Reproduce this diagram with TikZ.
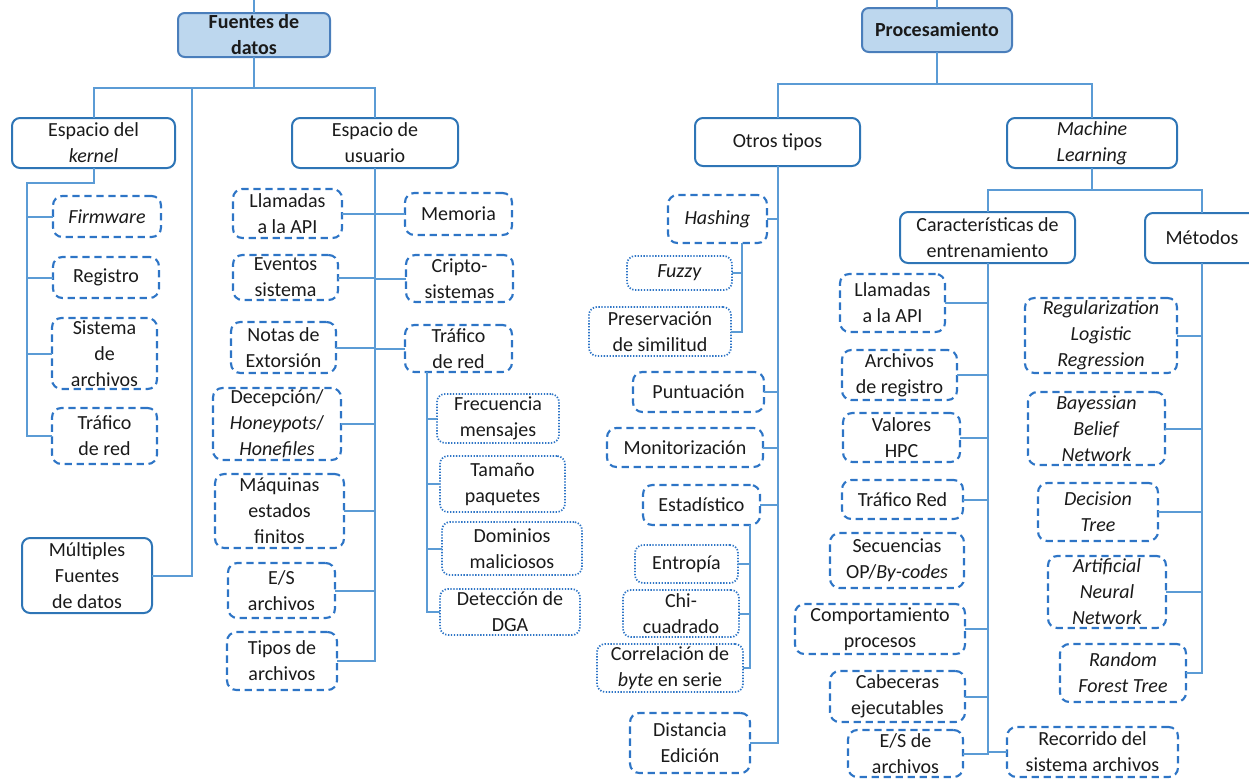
\documentclass[tikz,border=0pt]{standalone}
\usepackage{fontspec}
\setmainfont{Carlito}
\definecolor{dblue}{HTML}{2E75C6}
\definecolor{sblue}{HTML}{2E75B6}
\definecolor{cblue}{HTML}{5B9BD5}
\definecolor{rfill}{HTML}{BDD7EE}
\definecolor{rborder}{HTML}{4A7EBB}
\definecolor{txtc}{HTML}{1A1A1A}
\tikzset{
  shp/.style={inner sep=0pt, outer sep=0pt, rectangle},
  rootbox/.style={shp, fill=rfill, draw=rborder, line width=1.5pt, rounded corners=5pt},
  solidbox/.style={shp, draw=sblue, line width=1.5pt, rounded corners=6pt},
  dashbox/.style={shp, draw=dblue, line width=1.6pt, dash pattern=on 5.5pt off 3.5pt, rounded corners=7pt},
  dotbox/.style={shp, draw=dblue, line width=1.3pt, dash pattern=on 1pt off 1.2pt, rounded corners=6pt},
  txt/.style={inner sep=0pt, align=center, text=txtc, font=\fontsize{15}{19.5}\selectfont},
  conn/.style={draw=cblue, line width=1.5pt}
}
\newcommand\bx[7]{%
  \node[#2, minimum width={(#5-#3)*0.75pt}, minimum height={(#6-#4)*0.75pt}] (#1) at ({(#3+#5)/2},{(#4+#6)/2}) {};
  \node[txt] (#1-t) at (#1.center) {#7};}
\begin{document}
\begin{tikzpicture}[x=0.75pt,y=-0.75pt]
\useasboundingbox (0,0) rectangle (1249,778);
% ---------- left tree ----------
\bx{fuentes}{rootbox}{178}{13}{330}{57}{\textbf{Fuentes de}\\\textbf{datos}}
\bx{kernel}{solidbox}{12}{118}{175}{168}{Espacio del\\\textit{kernel}}
\bx{usu}{solidbox}{292}{118}{458}{168}{Espacio de\\usuario}
\bx{mult}{solidbox}{22}{538}{152}{613}{Múltiples\\Fuentes\\de datos}
\bx{firm}{dashbox}{53}{196}{161}{237}{\textit{Firmware}}
\bx{reg}{dashbox}{53}{257}{159}{298}{Registro}
\bx{sist}{dashbox}{52}{318}{157}{389}{Sistema\\de\\archivos}
\bx{ktraf}{dashbox}{52}{408}{157}{464}{Tráfico\\de red}
\bx{llam}{dashbox}{233}{189}{342}{238}{Llamadas\\a la API}
\bx{even}{dashbox}{233}{255}{338}{300}{Eventos\\sistema}
\bx{notas}{dashbox}{231}{322}{336}{373}{Notas de\\Extorsión}
\bx{decep}{dashbox}{213}{388}{341}{460}{Decepción/\\\textit{Honeypots}/\\\textit{Honefiles}}
\bx{maq}{dashbox}{215}{474}{344}{548}{Máquinas\\estados\\finitos}
\bx{es}{dashbox}{228}{563}{335}{618}{E/S\\archivos}
\bx{tipos}{dashbox}{227}{632}{337}{690}{Tipos de\\archivos}
\bx{mem}{dashbox}{405}{193}{512}{235}{Memoria}
\bx{cripto}{dashbox}{406}{255}{513}{302}{Cripto-\\sistemas}
\bx{utraf}{dashbox}{405}{325}{512}{372}{Tráfico\\de red}
\bx{frec}{dotbox}{437}{394}{559}{443}{Frecuencia\\mensajes}
\bx{tam}{dotbox}{440}{456}{565}{512}{Tamaño\\paquetes}
\bx{dom}{dotbox}{442}{522}{582}{575}{Dominios\\maliciosos}
\bx{dga}{dotbox}{440}{589}{580}{635}{Detección de\\DGA}
% ---------- right tree ----------
\bx{proc}{rootbox}{862}{8}{1012}{52}{\textbf{Procesamiento}}
\bx{otros}{solidbox}{695}{118}{860}{166}{Otros tipos}
\bx{ml}{solidbox}{1007}{118}{1177}{168}{\textit{Machine}\\\textit{Learning}}
\bx{hash}{dashbox}{668}{195}{767}{243}{\textit{Hashing}}
\bx{fuzzy}{dotbox}{627}{256}{732}{290}{\textit{Fuzzy}}
\bx{pres}{dotbox}{589}{307}{731}{356}{Preservación\\de similitud}
\bx{punt}{dashbox}{633}{372}{764}{412}{Puntuación}
\bx{monit}{dashbox}{607}{428}{763}{467}{Monitorización}
\bx{estad}{dashbox}{643}{485}{760}{525}{Estadístico}
\bx{entr}{dotbox}{635}{545}{738}{583}{Entropía}
\bx{chi}{dotbox}{623}{590}{739}{637}{Chi-\\cuadrado}
\bx{corr}{dotbox}{597}{644}{743}{692}{Correlación de\\\textit{byte} en serie}
\bx{dist}{dashbox}{630}{713}{750}{773}{Distancia\\Edición}
\bx{carac}{solidbox}{900}{212}{1075}{263}{Características de\\entrenamiento}
\bx{met}{solidbox}{1145}{213}{1259}{263}{Métodos}
\bx{rllam}{dashbox}{840}{274}{945}{332}{Llamadas\\a la API}
\bx{rarch}{dashbox}{842}{350}{957}{400}{Archivos\\de registro}
\bx{hpc}{dashbox}{843}{413}{960}{462}{Valores\\HPC}
\bx{rtraf}{dashbox}{842}{480}{963}{519}{Tráfico Red}
\bx{sec}{dashbox}{830}{533}{964}{588}{Secuencias\\OP/\textit{By-codes}}
\bx{comp}{dashbox}{795}{604}{965}{654}{Comportamiento\\procesos}
\bx{cab}{dashbox}{830}{671}{965}{722}{Cabeceras\\ejecutables}
\bx{res}{dashbox}{848}{730}{963}{777}{E/S de\\archivos}
\bx{rec}{dashbox}{1007}{727}{1178}{777}{Recorrido del\\sistema archivos}
\bx{regl}{dashbox}{1025}{298}{1177}{373}{\textit{Regularization}\\\textit{Logistic}\\\textit{Regression}}
\bx{bay}{dashbox}{1028}{392}{1165}{465}{\textit{Bayessian}\\\textit{Belief}\\\textit{Network}}
\bx{dec}{dashbox}{1038}{483}{1158}{541}{\textit{Decision}\\\textit{Tree}}
\bx{ann}{dashbox}{1048}{556}{1166}{628}{\textit{Artificial}\\\textit{Neural}\\\textit{Network}}
\bx{rf}{dashbox}{1060}{644}{1186}{702}{\textit{Random}\\\textit{Forest Tree}}
% ---------- connectors: left ----------
\coordinate (ftop) at (254,0);
\coordinate (lbus) at (192,88);
\coordinate (kb) at (27,183);
\coordinate (ub) at (427,0);
\draw[conn] (ftop) -- (fuentes.north);
\draw[conn] (fuentes.south) -- (fuentes.south |- lbus);
\draw[conn] (kernel.north) |- (usu.north |- lbus) -- (usu.north);
\draw[conn] (mult.east) -| (lbus);
\draw[conn] (kernel.south) |- (kb) |- (ktraf.west);
\foreach \n in {firm,reg,sist} \draw[conn] (\n.west) -- (\n.west -| kb);
\draw[conn] (usu.south) |- (tipos.east);
\foreach \n in {llam,even,notas,decep,maq,es} \draw[conn] (\n.east) -- (\n.east -| usu.south);
\foreach \n in {mem,cripto,utraf} \draw[conn] (\n.west) -- (\n.west -| usu.south);
\draw[conn] (utraf.south -| ub) |- (dga.west);
\foreach \n in {frec,tam,dom} \draw[conn] (\n.west) -- (\n.west -| ub);
% ---------- connectors: right ----------
\coordinate (ptop) at (937,0);
\coordinate (rbus) at (0,84);
\coordinate (mbus) at (0,190);
\coordinate (hb) at (742,0);
\coordinate (eb) at (750,0);
\draw[conn] (ptop) -- (proc.north);
\draw[conn] (proc.south) -- (proc.south |- rbus);
\draw[conn] (otros.north) |- (ml.north |- rbus) -- (ml.north);
\draw[conn] (otros.south) |- (dist.east);
\foreach \n in {hash,punt,monit,estad} \draw[conn] (\n.east) -- (\n.east -| otros.south);
\draw[conn] (hash.south -| hb) |- (pres.east);
\draw[conn] (fuzzy.east) -- (fuzzy.east -| hb);
\draw[conn] (estad.south -| eb) |- (corr.east);
\foreach \n in {entr,chi} \draw[conn] (\n.east) -- (\n.east -| eb);
\draw[conn] (ml.south) -- (ml.south |- mbus);
\draw[conn] (carac.north) |- (met.north |- mbus) -- (met.north);
\draw[conn] (carac.south) |- (res.east);
\foreach \n in {rllam,rarch,hpc,rtraf,comp,cab} \draw[conn] (\n.east) -- (\n.east -| carac.south);
\draw[conn] (rec.west) -- (rec.west -| carac.south);
\draw[conn] (met.south) |- (rf.east);
\foreach \n in {regl,bay,dec,ann} \draw[conn] (\n.east) -- (\n.east -| met.south);
\end{tikzpicture}
\end{document}
